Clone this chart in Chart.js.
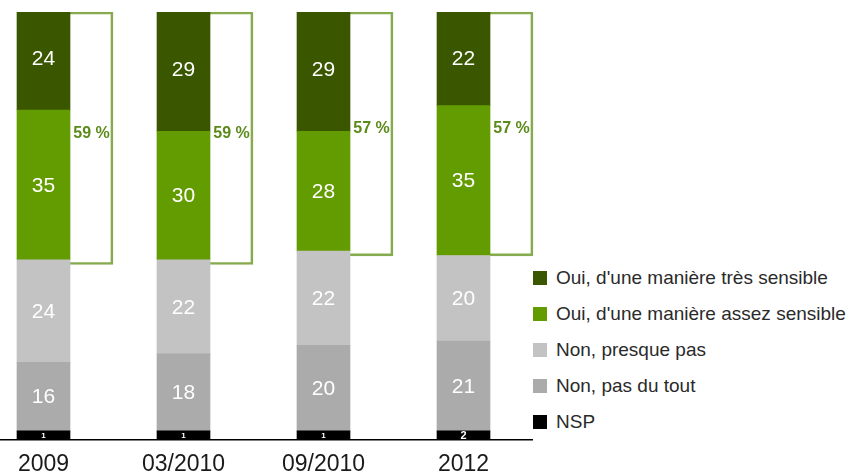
<!DOCTYPE html>
<html lang="fr">
<head>
<meta charset="utf-8">
<title>Sensibilité</title>
<script src="https://cdn.jsdelivr.net/npm/chart.js@4.4.0/dist/chart.umd.min.js"></script>
<style>
  body { margin: 0; background: #fff; }
  #wrap { position: relative; width: 862px; height: 472px; overflow: hidden; }
  #legend { position: absolute; left: 533px; top: 260px; padding-bottom: 4px; background: #fff;
            font: 19px "Liberation Sans", Arial, sans-serif; color: #2a2a2a; }
  #legend .item { height: 36px; display: flex; align-items: center; white-space: nowrap; }
  #legend .sq { width: 14px; height: 14px; margin-right: 9px; flex: none; }
</style>
</head>
<body>
<div id="wrap">
  <canvas id="chart" width="862" height="472"></canvas>
  <div id="legend"></div>
</div>
<script>
// données (en %)
const years = ['2009', '03/2010', '09/2010', '2012'];
const nsp = [1, 1, 1, 2];
const pasDuTout = [16, 18, 20, 21];
const presquePas = [24, 22, 22, 20];
const assezSensible = [35, 30, 28, 35];
const tresSensible = [24, 29, 29, 22];

const ouiTotal = years.map((_, i) => assezSensible[i] + tresSensible[i]);
const nonTotal = years.map((_, i) => nsp[i] + pasDuTout[i] + presquePas[i]);

const FONT = '"Liberation Sans", Arial, sans-serif';

// étiquettes dans les barres + total "oui" dans le cadre
const barLabels = {
  id: 'barLabels',
  afterDatasetsDraw(chart) {
    const ctx = chart.ctx;
    ctx.save();
    ctx.textAlign = 'center';
    ctx.textBaseline = 'middle';
    chart.data.datasets.forEach((ds, i) => {
      const meta = chart.getDatasetMeta(i);
      meta.data.forEach((bar, j) => {
        const cy = (bar.y + bar.base) / 2;
        if (ds.stack === 'total') {
          ctx.fillStyle = '#5b8a1a';
          ctx.font = 'bold 16px ' + FONT;
          ctx.fillText(ouiTotal[j] + ' %', bar.x, cy - 5);
        } else if (ds.label === 'NSP') {
          ctx.fillStyle = '#fff';
          ctx.font = 'bold ' + (ds.data[j] > 1 ? 11 : 8) + 'px ' + FONT;
          ctx.fillText(ds.data[j], bar.x, cy + 0.5);
        } else {
          ctx.fillStyle = '#fff';
          ctx.font = '21px ' + FONT;
          ctx.fillText(ds.data[j], bar.x, cy + 1);
        }
      });
    });
    ctx.restore();
  }
};

const seg = (label, data, color, extra) => Object.assign({
  label, data, backgroundColor: color, borderWidth: 0,
  stack: 'reponses', barThickness: 53
}, extra || {});

const chart = new Chart(document.getElementById('chart'), {
  type: 'bar',
  data: {
    labels: years,
    datasets: [
      seg('NSP', nsp, '#000000', { minBarLength: 9 }),
      seg('Non, pas du tout', pasDuTout, '#ababab'),
      seg('Non, presque pas', presquePas, '#c3c3c3'),
      seg("Oui, d'une manière assez sensible", assezSensible, '#639c00'),
      seg("Oui, d'une manière très sensible", tresSensible, '#3a5700'),
      {
        label: 'Total oui',
        data: years.map((_, i) => [nonTotal[i], nonTotal[i] + ouiTotal[i]]),
        backgroundColor: 'rgba(0,0,0,0)',
        borderColor: '#86ab4e',
        borderWidth: 2,
        borderSkipped: 'left',
        stack: 'total',
        barThickness: 43
      }
    ]
  },
  options: {
    responsive: false,
    animation: false,
    layout: { padding: { left: 0, right: 302, top: 12, bottom: -18 } },
    plugins: {
      legend: { display: false },
      tooltip: { enabled: false }
    },
    scales: {
      x: {
        stacked: true,
        grid: { display: false, drawTicks: false },
        border: { display: true, color: '#000', width: 1.5 },
        ticks: {
          color: '#1a1a1a',
          font: { family: FONT, size: 23, lineHeight: 0.7 },
          padding: 17,
          labelOffset: -26.5
        }
      },
      y: {
        stacked: true,
        display: false,
        min: 0,
        max: 100
      }
    }
  },
  plugins: [barLabels]
});

// légende HTML (ordre inversé, sans le cadre)
const legend = document.getElementById('legend');
chart.data.datasets.filter(ds => ds.stack === 'reponses').reverse().forEach(ds => {
  const item = document.createElement('div');
  item.className = 'item';
  item.innerHTML = `<span class="sq" style="background:${ds.backgroundColor}"></span><span>${ds.label}</span>`;
  legend.appendChild(item);
});
</script>
</body>
</html>
